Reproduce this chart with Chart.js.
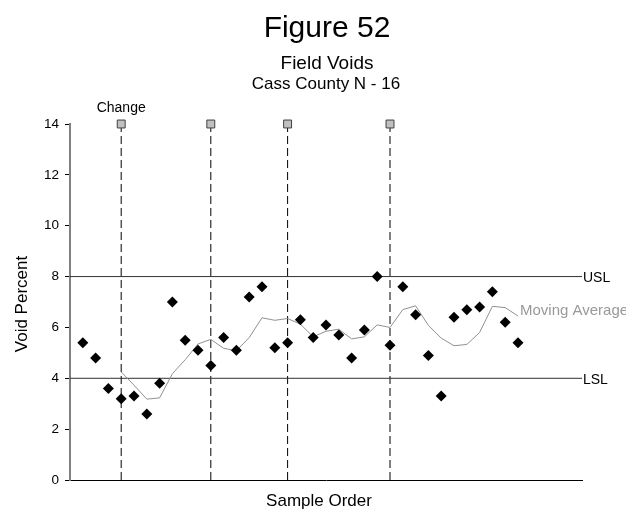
<!DOCTYPE html>
<html>
<head>
<meta charset="utf-8">
<script src="https://cdn.jsdelivr.net/npm/chart.js@4/dist/chart.umd.min.js"></script>
<style>
  html, body { margin: 0; padding: 0; background: #fff; }
  #wrap { width: 626px; height: 510px; position: relative; }
</style>
</head>
<body>
<div id="wrap"><canvas id="chart" width="626" height="510"></canvas></div>
<script>
// sample order 1..35, void percent
const voids = [5.4, 4.8, 3.6, 3.2, 3.3, 2.6, 3.8, 7.0, 5.5, 5.1, 4.5, 5.6, 5.1, 7.2, 7.6, 5.2, 5.4, 6.3,
               5.6, 6.1, 5.7, 4.8, 5.9, 8.0, 5.3, 7.6, 6.5, 4.9, 3.3, 6.4, 6.7, 6.8, 7.4, 6.2, 5.4];
// moving average, starts at sample 4
const movingAvg = [4.25, 3.73, 3.18, 3.23, 4.18, 4.73, 5.35, 5.53, 5.18, 5.08, 5.6, 6.38, 6.28, 6.35, 6.13, 5.63,
                   5.85, 5.93, 5.55, 5.63, 6.1, 6.0, 6.7, 6.85, 6.08, 5.58, 5.28, 5.33, 5.8, 6.83, 6.78, 6.45];
const maStart = 4;
const changes = [4, 11, 17, 25];
const usl = 8;
const lsl = 4;
const xMax = 40;
const yTicks = [0, 2, 4, 6, 8, 10, 12, 14];

const FONT = "'Liberation Sans', Arial, sans-serif";

const pts = voids.map((v, i) => ({ x: i + 1, y: v }));
const maPts = movingAvg.map((v, i) => ({ x: i + maStart, y: v }));

const changeSets = changes.map(c => ({
  type: 'line',
  data: [{ x: c, y: 0 }, { x: c, y: 14 }],
  borderColor: '#000',
  borderWidth: 1,
  borderDash: [8, 4],
  pointRadius: [0, 5.6],
  pointStyle: 'rect',
  pointBackgroundColor: '#c0c0c0',
  pointBorderColor: '#404040',
  pointBorderWidth: 1,
  clip: false,
  order: 3
}));

const labels = {
  id: 'labels',
  afterDraw(chart) {
    const { ctx, chartArea, scales } = chart;
    const xs = scales.x, ys = scales.y;
    ctx.save();
    ctx.fillStyle = '#000';
    ctx.textAlign = 'center';
    ctx.textBaseline = 'alphabetic';
    ctx.font = '30px ' + FONT;
    ctx.fillText('Figure 52', 327, 37);
    ctx.font = '19px ' + FONT;
    ctx.fillText('Field Voids', 327, 69);
    ctx.font = '17px ' + FONT;
    ctx.fillText('Cass County N - 16', 326, 89);
    ctx.font = '14px ' + FONT;
    ctx.fillText('Change', xs.getPixelForValue(changes[0]), 112);

    // axis titles
    ctx.font = '17px ' + FONT;
    ctx.fillText('Sample Order', 319, 506);
    ctx.save();
    ctx.translate(27, 304);
    ctx.rotate(-Math.PI / 2);
    ctx.fillText('Void Percent', 0, 0);
    ctx.restore();

    ctx.textAlign = 'left';
    ctx.font = '14px ' + FONT;
    ctx.fillText('USL', chartArea.right + 1, ys.getPixelForValue(usl) + 5.5);
    ctx.fillText('LSL', chartArea.right + 1, ys.getPixelForValue(lsl) + 5.5);
    ctx.fillStyle = '#999';
    ctx.font = '15px ' + FONT;
    const last = maPts[maPts.length - 1];
    ctx.fillText('Moving Average', xs.getPixelForValue(last.x) + 2, ys.getPixelForValue(last.y) - 1);
    ctx.restore();
  }
};

new Chart(document.getElementById('chart'), {
  type: 'scatter',
  data: {
    datasets: [
      {
        label: 'Void Percent',
        data: pts,
        pointStyle: 'rectRot',
        pointRadius: 5.5,
        pointBackgroundColor: '#000',
        pointBorderColor: '#000',
        pointBorderWidth: 0,
        showLine: false,
        order: 0
      },
      {
        type: 'line',
        label: 'Moving Average',
        data: maPts,
        borderColor: '#909090',
        borderWidth: 1,
        pointRadius: 0,
        tension: 0,
        order: 1
      },
      {
        type: 'line',
        label: 'USL',
        data: [{ x: 0, y: usl }, { x: xMax, y: usl }],
        borderColor: '#303030',
        borderWidth: 1,
        pointRadius: 0,
        order: 2
      },
      {
        type: 'line',
        label: 'LSL',
        data: [{ x: 0, y: lsl }, { x: xMax, y: lsl }],
        borderColor: '#303030',
        borderWidth: 1,
        pointRadius: 0,
        order: 2
      },
      ...changeSets
    ]
  },
  options: {
    responsive: false,
    animation: false,
    layout: { padding: { top: 124, right: 44, left: 0, bottom: 0 } },
    plugins: {
      legend: { display: false },
      tooltip: { enabled: false }
    },
    scales: {
      x: {
        type: 'linear',
        min: 0,
        max: xMax,
        ticks: { display: false },
        grid: { display: false },
        border: { color: '#000', width: 1 },
        afterFit: s => { s.height = 30; }
      },
      y: {
        min: 0,
        max: 14,
        afterBuildTicks: s => { s.ticks = yTicks.map(v => ({ value: v })); },
        ticks: { color: '#000', font: { family: FONT, size: 13.5 }, padding: 6 },
        grid: { drawOnChartArea: false, drawTicks: true, tickLength: 5, color: '#000' },
        border: { color: '#808080', width: 2 },
        afterFit: s => { s.width = 70; }
      }
    }
  },
  plugins: [labels]
});
</script>
</body>
</html>
